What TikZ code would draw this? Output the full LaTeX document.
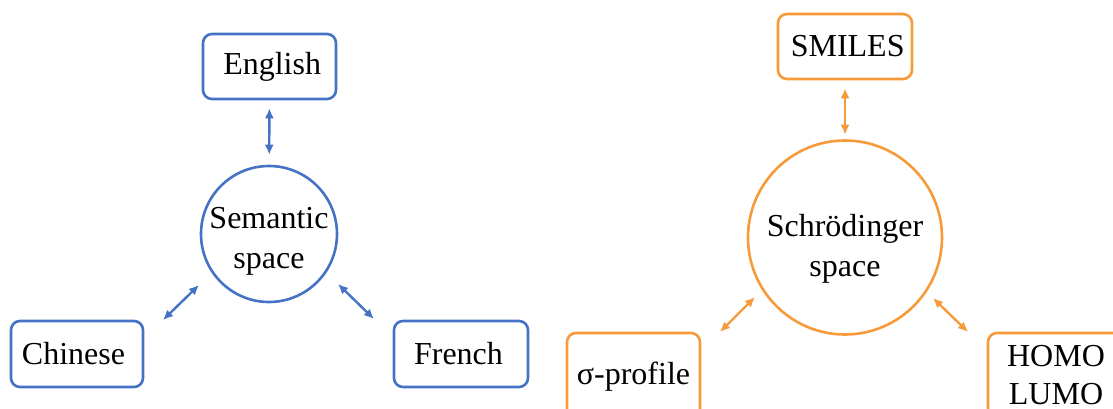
\documentclass[tikz,border=0pt]{standalone}
\usepackage{fontspec}
\setmainfont{Liberation Serif}
\usetikzlibrary{arrows.meta,shapes.geometric}
\definecolor{semblue}{HTML}{4472C4}
\definecolor{schorange}{HTML}{F79A3A}
\begin{document}
\begin{tikzpicture}[x=1pt,y=-1pt,
  txt/.style={font=\fontsize{32}{38}\selectfont, align=center, text=black, inner sep=0pt},
  box/.style={txt, draw, rounded corners=9pt, line width=2.6pt},
  space/.style={draw, circle, line width=2.6pt, inner sep=0pt},
  link/.style={line width=2.4pt, {Latex[length=10pt,width=9pt]}-{Latex[length=10pt,width=9pt]}}
]
\useasboundingbox (0,0) rectangle (1113,409);
\clip (0,0) rectangle (1113,409);

% language side
\begin{scope}[semblue]
  \node[space, minimum size=136pt] (sem) at (269,234) {};
  \node[txt] (semtxt) at (269,241) {Semantic\\[2pt]space};
  \node[box, minimum width=133pt, minimum height=65pt] (eng) at (269.5,66.5) {\,\raisebox{-3pt}{English}};
  \node[box, minimum width=132pt, minimum height=66pt] (chi) at (77,354) {Chinese\kern7pt};
  \node[box, minimum width=134pt, minimum height=66pt] (fre) at (461,354) {French\kern5pt};
  \coordinate (chiA) at (163,320);
  \coordinate (chiB) at (199,285);
  \coordinate (freA) at (374,319);
  \coordinate (freB) at (338,284);
  \draw[link, shorten <=8pt, shorten >=10pt] (eng) -- (sem);
  \draw[link] (chiA) -- (chiB);
  \draw[link] (freB) -- (freA);
\end{scope}

% molecular side
\begin{scope}[schorange]
  \node[space, minimum size=194pt] (sch) at (845,237.5) {};
  \node[txt] (schtxt) at (845,248.5) {Schrödinger\\[2pt]space};
  \node[box, minimum width=134pt, minimum height=65pt] (smi) at (845,46.5) {\,\raisebox{-2pt}{SMILES}};
  \node[box, minimum width=133pt, minimum height=88pt] (sig) at (633.5,377) {σ-profile};
  \node[box, minimum width=136pt, minimum height=84pt] (hl) at (1056,375) {HOMO\\LUMO};
  \coordinate (sigA) at (720,332);
  \coordinate (sigB) at (755,297);
  \coordinate (hlA) at (968,332);
  \coordinate (hlB) at (933,298);
  \draw[link, shorten <=8pt, shorten >=4.5pt] (smi) -- (sch);
  \draw[link] (sigA) -- (sigB);
  \draw[link] (hlB) -- (hlA);
\end{scope}
\end{tikzpicture}
\end{document}
